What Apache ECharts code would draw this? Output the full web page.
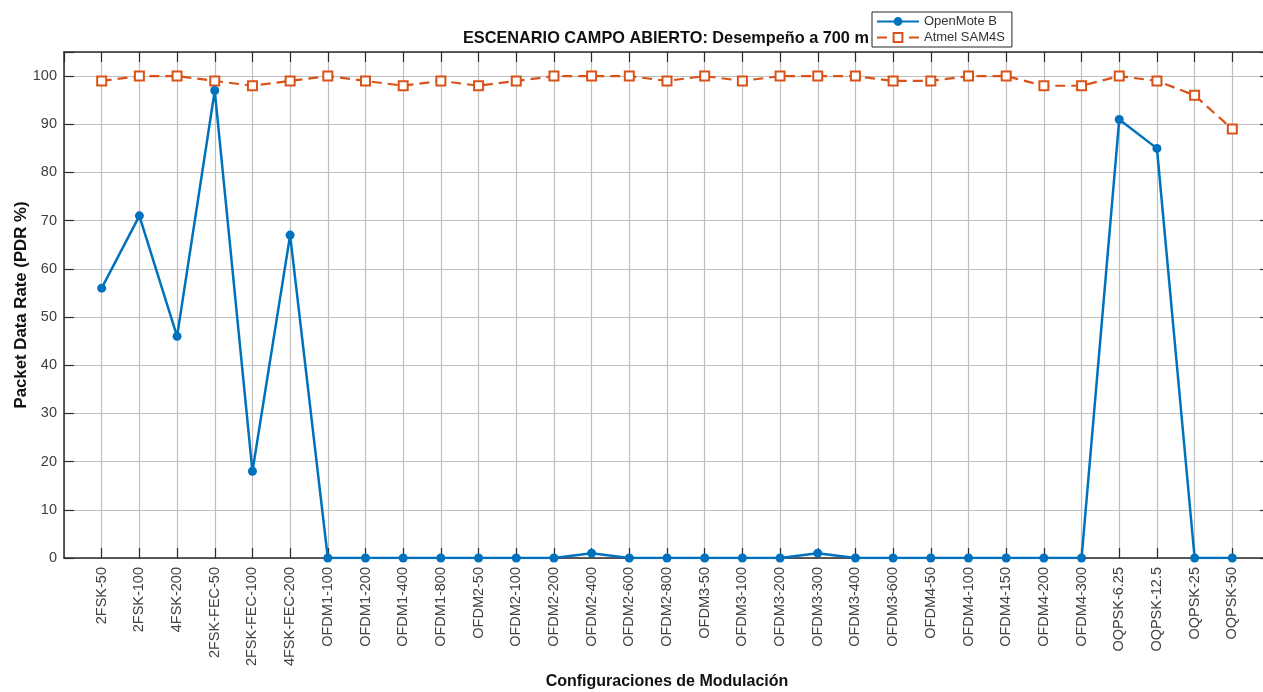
<!DOCTYPE html>
<html>
<head>
<meta charset="utf-8">
<title>ESCENARIO CAMPO ABIERTO</title>
<script src="https://cdn.jsdelivr.net/npm/echarts@6/dist/echarts.min.js"></script>
<style>
  html, body { margin: 0; padding: 0; background: #fff; overflow: hidden; }
  #chart { width: 1263px; height: 692px; }
</style>
</head>
<body>
<div id="chart"></div>
<script>
// Modulation configurations (x categories)
const categories = [
  '2FSK-50', '2FSK-100', '4FSK-200', '2FSK-FEC-50', '2FSK-FEC-100', '4FSK-FEC-200',
  'OFDM1-100', 'OFDM1-200', 'OFDM1-400', 'OFDM1-800',
  'OFDM2-50', 'OFDM2-100', 'OFDM2-200', 'OFDM2-400', 'OFDM2-600', 'OFDM2-800',
  'OFDM3-50', 'OFDM3-100', 'OFDM3-200', 'OFDM3-300', 'OFDM3-400', 'OFDM3-600',
  'OFDM4-50', 'OFDM4-100', 'OFDM4-150', 'OFDM4-200', 'OFDM4-300',
  'OQPSK-6.25', 'OQPSK-12.5', 'OQPSK-25', 'OQPSK-50'
];

// PDR (%) per configuration
const openMoteB = [
  56, 71, 46, 97, 18, 67,
  0, 0, 0, 0,
  0, 0, 0, 1, 0, 0,
  0, 0, 0, 1, 0, 0,
  0, 0, 0, 0, 0,
  91, 85, 0, 0
];
const atmelSAM4S = [
  99, 100, 100, 99, 98, 99,
  100, 99, 98, 99,
  98, 99, 100, 100, 100, 99,
  100, 99, 100, 100, 100, 99,
  99, 100, 100, 98, 98,
  100, 99, 96, 89
];

const BLUE = '#0072BD';
const ORANGE = '#D95319';
const AXIS = '#2b2b2b';
const GRID = '#bfbfbf';
const FONT = '"Liberation Sans", Arial, Helvetica, sans-serif';

// categories sit at positions 1..N on a 0..N+1 value axis
const toPoints = arr => arr.map((v, i) => [i + 1, v]);
const xMax = categories.length + 1;

const chart = echarts.init(document.getElementById('chart'), null, { renderer: 'canvas' });

const baseX = {
  type: 'value', min: 0, max: xMax, interval: 1,
  axisLine: { show: true, onZero: false, lineStyle: { color: AXIS, width: 1.5 } },
  axisTick: { show: true, inside: true, length: 10, lineStyle: { color: AXIS, width: 1.2 } }
};
const baseY = {
  type: 'value', min: 0, max: 105, interval: 10,
  axisLine: { show: true, onZero: false, lineStyle: { color: AXIS, width: 1.5 } },
  axisTick: { show: true, inside: true, length: 10, lineStyle: { color: AXIS, width: 1.2 } }
};

chart.setOption({
  animation: false,
  backgroundColor: '#fff',
  textStyle: { fontFamily: FONT },
  title: {
    text: 'ESCENARIO CAMPO ABIERTO: Desempeño a 700 m',
    left: 463, top: 31, padding: 0,
    textStyle: { fontSize: 16.3, fontWeight: 'bold', color: '#111', fontFamily: FONT }
  },
  legend: {
    orient: 'vertical',
    left: 872, top: 12,
    padding: [3, 7, 3, 4],
    itemGap: 3,
    itemWidth: 42, itemHeight: 11,
    backgroundColor: '#fff',
    borderColor: '#262626', borderWidth: 1, borderRadius: 0,
    textStyle: { fontSize: 13, color: '#333', fontFamily: FONT },
    data: ['OpenMote B', 'Atmel SAM4S']
  },
  // the right edge of the axes box sits just past the canvas edge
  grid: { left: 64, right: -7, top: 52, bottom: 134, containLabel: false, outerBoundsMode: 'none' },
  xAxis: [
    Object.assign({}, baseX, {
      position: 'bottom',
      name: 'Configuraciones de Modulación',
      nameLocation: 'middle', nameGap: 116, nameMoveOverlap: false,
      nameTextStyle: { fontSize: 16, fontWeight: 'bold', color: '#111', fontFamily: FONT },
      splitLine: { show: true, lineStyle: { color: GRID, width: 1.2 } },
      axisLabel: {
        rotate: 90, margin: 9, fontSize: 14.5, color: '#404040', fontFamily: FONT,
        showMinLabel: false, showMaxLabel: false,
        formatter: v => categories[v - 1] || ''
      }
    }),
    Object.assign({}, baseX, {
      position: 'top',
      splitLine: { show: false },
      axisLabel: { show: false }
    })
  ],
  yAxis: [
    Object.assign({}, baseY, {
      position: 'left',
      name: 'Packet Data Rate (PDR %)',
      nameLocation: 'middle', nameGap: 34, nameMoveOverlap: false,
      nameTextStyle: { fontSize: 16.8, fontWeight: 'bold', color: '#111', fontFamily: FONT },
      splitLine: { show: true, lineStyle: { color: GRID, width: 1.2 } },
      axisLabel: {
        margin: 7, fontSize: 14.5, color: '#404040', fontFamily: FONT,
        formatter: v => (v % 10 === 0 ? String(v) : '')
      }
    }),
    Object.assign({}, baseY, {
      position: 'right',
      splitLine: { show: false },
      axisLabel: { show: false }
    })
  ],
  series: [
    {
      name: 'OpenMote B',
      type: 'line',
      xAxisIndex: 0, yAxisIndex: 0,
      data: toPoints(openMoteB),
      color: BLUE,
      symbol: 'circle', symbolSize: 9,
      lineStyle: { color: BLUE, width: 2.5 },
      itemStyle: { color: BLUE },
      z: 3
    },
    {
      name: 'Atmel SAM4S',
      type: 'line',
      xAxisIndex: 0, yAxisIndex: 0,
      data: toPoints(atmelSAM4S),
      color: ORANGE,
      symbol: 'rect', symbolSize: 9,
      lineStyle: { color: ORANGE, width: 2.2, type: [10, 6] },
      itemStyle: { color: '#fff', borderColor: ORANGE, borderWidth: 2 },
      z: 2
    }
  ]
});
</script>
</body>
</html>
